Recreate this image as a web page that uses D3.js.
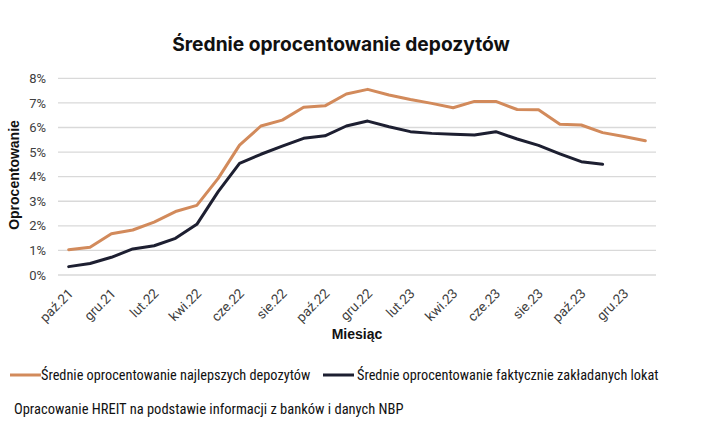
<!DOCTYPE html>
<html>
<head>
<meta charset="utf-8">
<script src="https://cdn.jsdelivr.net/npm/d3@7"></script>
<style>
  html, body { margin: 0; padding: 0; background: #fff; }
  svg { display: block; }
</style>
</head>
<body>
<svg id="chart" width="705" height="430"></svg>
<script>
const months = ["paź.21","lis.21","gru.21","sty.22","lut.22","mar.22","kwi.22","maj.22","cze.22","lip.22","sie.22","wrz.22","paź.22","lis.22","gru.22","sty.23","lut.23","mar.23","kwi.23","maj.23","cze.23","lip.23","sie.23","wrz.23","paź.23","lis.23","gru.23","sty.24"];
const tickLabels = ["paź.21","gru.21","lut.22","kwi.22","cze.22","sie.22","paź.22","gru.22","lut.23","kwi.23","cze.23","sie.23","paź.23","gru.23"];
const bestDeposits = [1.03,1.13,1.68,1.83,2.15,2.58,2.83,3.93,5.28,6.06,6.30,6.82,6.88,7.36,7.55,7.32,7.14,6.98,6.80,7.06,7.06,6.73,6.72,6.13,6.10,5.79,5.63,5.46];
const actualDeposits = [0.34,0.47,0.72,1.06,1.19,1.49,2.06,3.39,4.54,4.91,5.24,5.56,5.66,6.06,6.26,6.03,5.83,5.76,5.72,5.69,5.83,5.53,5.27,4.93,4.61,4.50];
const yTicks = [0,1,2,3,4,5,6,7,8];
const seriesNames = ["Średnie oprocentowanie najlepszych depozytów","Średnie oprocentowanie faktycznie zakładanych lokat"];
const colors = ["#D28A5B","#1D1F31"];

(function () {
const svg = d3.select("#chart");
const narrow = "'Liberation Sans Narrow', 'Roboto Condensed', 'Liberation Sans', sans-serif";
const roboto = "Roboto, 'Liberation Sans', sans-serif";
const arial = "'Liberation Sans', Arial, sans-serif";
const mLeft = 58, mRight = 656, mTop = 78.3, mBottom = 275;

const x = d3.scaleBand().domain(months).range([mLeft, mRight]);
const y = d3.scaleLinear().domain([0, 8]).range([mBottom, mTop]);

// gridlines
svg.append("g").selectAll("line").data(yTicks).join("line")
  .attr("x1", mLeft).attr("x2", mRight)
  .attr("y1", d => y(d)).attr("y2", d => y(d))
  .attr("stroke", "#d9d9d9").attr("stroke-width", 1.3);

// y axis labels
const yAxis = d3.axisLeft(y).tickValues(yTicks).tickFormat(d => d + "%").tickSize(0).tickPadding(0);
const yg = svg.append("g").attr("transform", `translate(46,0)`).call(yAxis);
yg.select(".domain").remove();
yg.selectAll("text").attr("font-family", roboto).attr("font-size", 13).attr("fill", "#404040");

// x axis labels
const xAxis = d3.axisBottom(x).tickValues(tickLabels).tickSize(0).tickPadding(0);
const xg = svg.append("g").attr("transform", `translate(0,${mBottom + 10})`).call(xAxis);
xg.select(".domain").remove();
xg.selectAll("text")
  .attr("font-family", roboto).attr("font-size", 13.5).attr("fill", "#404040")
  .attr("text-anchor", "end")
  .attr("dy", "0.35em")
  .attr("transform", "translate(2,6) rotate(-45)");

// lines
const line = d3.line().x((d, i) => x(months[i]) + x.bandwidth() / 2).y(d => y(d));
[bestDeposits, actualDeposits].forEach((s, k) => {
  svg.append("path").datum(s)
    .attr("d", line)
    .attr("fill", "none")
    .attr("stroke", colors[k])
    .attr("stroke-width", 3)
    .attr("stroke-linejoin", "round")
    .attr("stroke-linecap", "round");
});

// title
svg.append("text").attr("x", 341).attr("y", 51).attr("text-anchor", "middle")
  .attr("font-family", "Inter, Roboto, sans-serif").attr("font-weight", "bold")
  .attr("font-size", 19.2).attr("fill", "#111").text("Średnie oprocentowanie depozytów");

// y title
svg.append("text").attr("transform", "translate(19,175) rotate(-90)").attr("text-anchor", "middle")
  .attr("font-family", arial).attr("font-weight", "bold")
  .attr("font-size", 14).attr("fill", "#111").text("Oprocentowanie");

// x title
svg.append("text").attr("x", 357).attr("y", 339).attr("text-anchor", "middle")
  .attr("font-family", arial).attr("font-weight", "bold")
  .attr("font-size", 14).attr("fill", "#111").text("Miesiąc");

// legend
const legendItems = [{x: 10, tx: 41}, {x: 323, tx: 357}];
legendItems.forEach((it, k) => {
  svg.append("line").attr("x1", it.x).attr("x2", it.x + 31).attr("y1", 375).attr("y2", 375)
    .attr("stroke", colors[k]).attr("stroke-width", 3);
  svg.append("text").attr("x", it.tx).attr("y", 379.5)
    .attr("font-family", narrow).attr("font-size", 14.3).attr("fill", "#111").text(seriesNames[k]);
});

// source
svg.append("text").attr("x", 14).attr("y", 414)
  .attr("font-family", narrow).attr("font-size", 14.5).attr("fill", "#111")
  .text("Opracowanie HREIT na podstawie informacji z banków i danych NBP");
})();
</script>
</body>
</html>
